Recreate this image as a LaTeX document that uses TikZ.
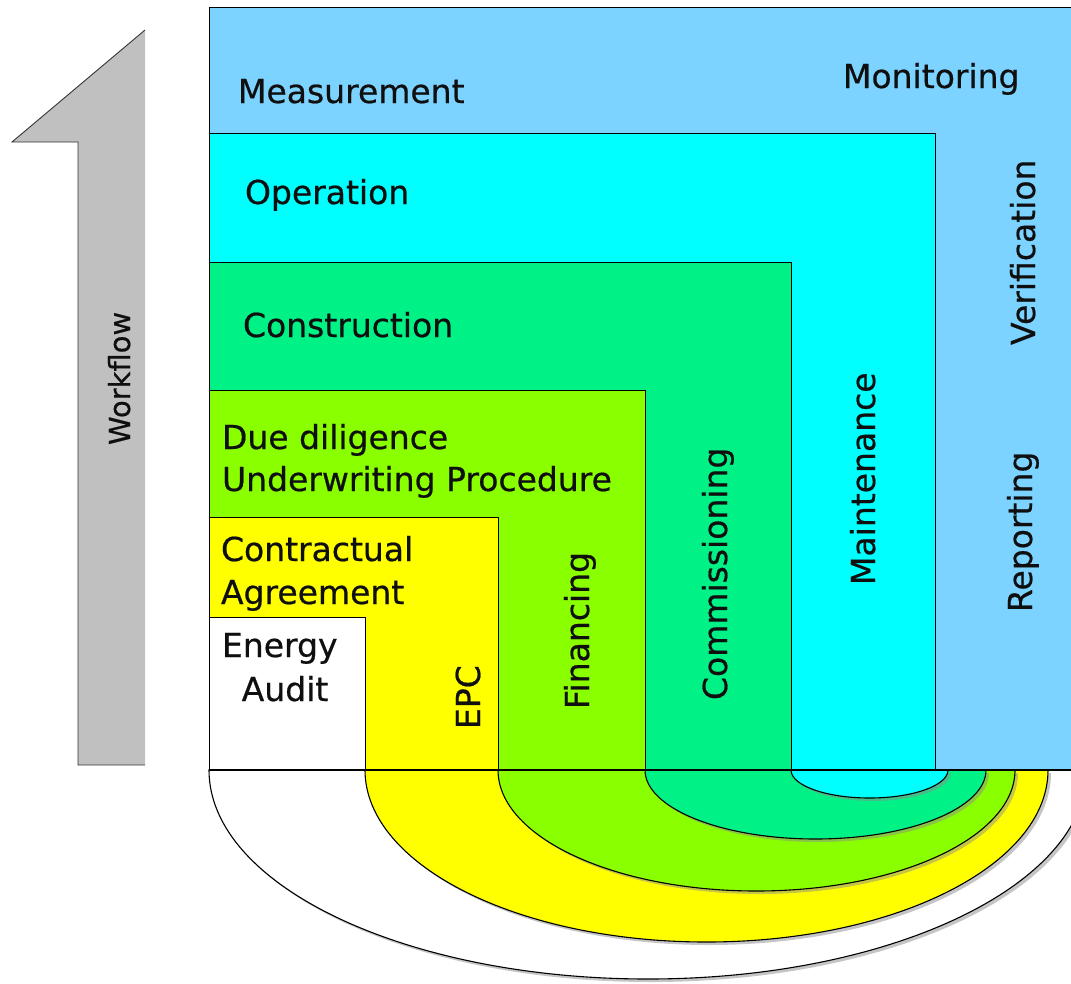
\documentclass[tikz,border=0pt]{standalone}
\usepackage{fontspec}
\setmainfont{DejaVu Sans}
\newfontfamily\lblfont{DejaVu Sans}[FakeBold=0.6]
\definecolor{cMeas}{RGB}{125,211,255}
\definecolor{cOper}{RGB}{0,255,255}
\definecolor{cCons}{RGB}{0,242,135}
\definecolor{cDue}{RGB}{138,255,0}
\definecolor{cCont}{RGB}{255,255,0}
\definecolor{cArrow}{RGB}{192,192,192}
\definecolor{cText}{RGB}{15,15,15}
\begin{document}
\begin{tikzpicture}[x=1pt,y=-1pt,
  box/.style={draw=black,line width=1pt},
  lbl/.style={inner sep=0pt,outer sep=0pt,text=cText,font=\lblfont\fontsize{33}{40}\selectfont},
  hl/.style={lbl,anchor=base west},
  vl/.style={lbl,anchor=base west,rotate=90},
  arcline/.style={draw=black,line width=1.1pt},
  shadow/.style={fill=black!45,opacity=0.5}]
\useasboundingbox (0,0) rectangle (1071,983);
\clip (0,0) rectangle (1071,983);
% Workflow arrow
\fill[cArrow] (145,30) -- (145,765) -- (78,765) -- (78,142) -- (12,142) -- cycle;
\draw[black!80,line width=0.9pt] (145,765) -- (78,765) -- (78,142) -- (12,142) -- (145,30);
\node[vl,font=\lblfont\fontsize{29}{34}\selectfont] (wf) at (130,445) {Workflow};
% rectangles
\draw[box,fill=cMeas] (209,7) rectangle (1080,770);
\draw[box,fill=cOper] (209,133) rectangle (935,770);
\draw[box,fill=cCons] (209,262) rectangle (791,770);
\draw[box,fill=cDue] (209,390) rectangle (645,770);
\draw[box,fill=cCont] (209,517) rectangle (498,770);
\draw[box,fill=white] (209,617) rectangle (365,770);
% half ellipses with shadows
\fill[shadow] (212,773) arc[start angle=180,end angle=360,x radius=439pt,y radius=209pt] -- cycle;
\filldraw[arcline,fill=white] (209,770) arc[start angle=180,end angle=360,x radius=439pt,y radius=209pt] -- cycle;
\fill[shadow] (368,773) arc[start angle=180,end angle=360,x radius=341.5pt,y radius=172pt] -- cycle;
\filldraw[arcline,fill=cCont] (365,770) arc[start angle=180,end angle=360,x radius=341.5pt,y radius=172pt] -- cycle;
\fill[shadow] (501,773) arc[start angle=180,end angle=360,x radius=258.5pt,y radius=121pt] -- cycle;
\filldraw[arcline,fill=cDue] (498,770) arc[start angle=180,end angle=360,x radius=258.5pt,y radius=121pt] -- cycle;
\fill[shadow] (648,773) arc[start angle=180,end angle=360,x radius=170.5pt,y radius=69pt] -- cycle;
\filldraw[arcline,fill=cCons] (645,770) arc[start angle=180,end angle=360,x radius=170.5pt,y radius=69pt] -- cycle;
\fill[shadow] (794,773) arc[start angle=180,end angle=360,x radius=78.5pt,y radius=28pt] -- cycle;
\filldraw[arcline,fill=cOper] (791,770) arc[start angle=180,end angle=360,x radius=78.5pt,y radius=28pt] -- cycle;
\draw[line width=1.8pt] (209,770) -- (1071,770);
% labels
\node[hl] (meas) at (238,103) {Measurement};
\node[hl] (moni) at (843,88) {Monitoring};
\node[hl] (oper) at (245,204) {Operation};
\node[hl] (cons) at (243,337) {Construction};
\node[hl] (due1) at (222,449) {Due diligence};
\node[hl] (due2) at (222,491) {Underwriting Procedure};
\node[hl] (con1) at (221,561) {Contractual};
\node[hl] (con2) at (221,604) {Agreement};
\node[hl] (ene1) at (222,657) {Energy};
\node[lbl,anchor=base] (ene2) at (285,701) {Audit};
\node[vl] (epc) at (480,729) {EPC};
\node[vl] (fin) at (589,709) {Financing};
\node[vl] (com) at (727,700) {Commissioning};
\node[vl] (mai) at (875,585) {Maintenance};
\node[vl] (ver) at (1035,345) {Verification};
\node[vl] (rep) at (1032,612) {Reporting};
\end{tikzpicture}
\end{document}
